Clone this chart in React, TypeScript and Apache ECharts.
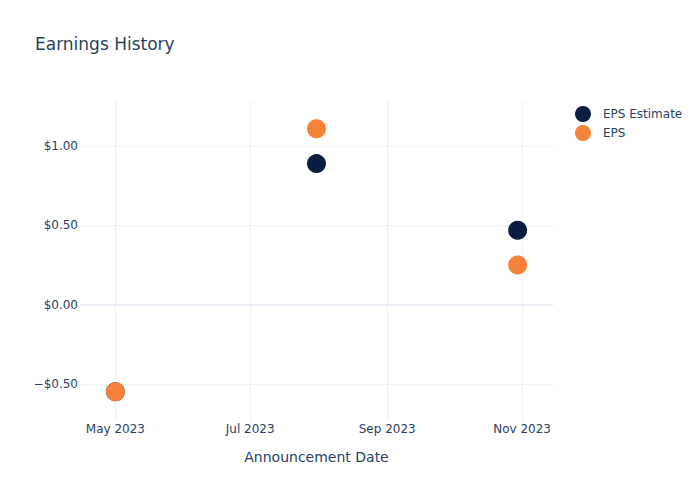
import React, { useEffect, useRef } from "react";
import * as echarts from "echarts";

const dates = ["2023-05-01", "2023-07-31", "2023-10-30"];
const epsEstimate = [-0.55, 0.89, 0.47];
const eps = [-0.55, 1.11, 0.25];
const xTickDates = ["2023-05-01", "2023-07-01", "2023-09-01", "2023-11-01"];
const xTickLabels = ["May 2023", "Jul 2023", "Sep 2023", "Nov 2023"];
const yTicks = [-0.5, 0, 0.5, 1];
const xRange = ["2023-04-15", "2023-11-15"];
const yRange = [-0.734, 1.285];

const ts = (s: string) => {
  const [y, m, d] = s.split("-").map(Number);
  return Date.UTC(y, m - 1, d);
};

const fmtMoney = (v: number) => (v < 0 ? "\u2212$" : "$") + Math.abs(v).toFixed(2);

export default function App() {
  const ref = useRef<HTMLDivElement>(null);
  useEffect(() => {
    if (!ref.current) return;
    const chart = echarts.init(ref.current, undefined, { renderer: "svg" });
    const font = "'DejaVu Sans', verdana, arial, sans-serif";
    const textColor = "#2a3f5f";
    const tickTs = xTickDates.map(ts);
    chart.setOption({
      animation: false,
      backgroundColor: "#ffffff",
      textStyle: { fontFamily: font, color: textColor },
      title: {
        text: "Earnings History",
        left: 30,
        top: 30,
        textStyle: { fontFamily: font, fontSize: 17, fontWeight: "normal", color: textColor },
      },
      legend: {
        orient: "vertical",
        left: 570,
        top: 101,
        itemGap: 3,
        itemWidth: 16,
        itemHeight: 16,
        icon: "circle",
        textStyle: { fontFamily: font, fontSize: 12, color: textColor, padding: [0, 0, 0, 7] },
        data: ["EPS Estimate", "EPS"],
      },
      grid: { left: 80, right: 147, top: 101, bottom: 79, containLabel: false },
      xAxis: {
        type: "value",
        min: ts(xRange[0]),
        max: ts(xRange[1]),
        scale: true,
        name: "Announcement Date",
        nameLocation: "middle",
        nameGap: 29,
        nameTextStyle: { fontFamily: font, fontSize: 14, color: textColor },
        axisLine: { show: false },
        axisTick: { show: false, customValues: tickTs },
        axisLabel: {
          customValues: tickTs,
          fontFamily: font,
          fontSize: 12,
          color: textColor,
          margin: 2,
          formatter: (v: number) => {
            const i = tickTs.indexOf(v);
            return i >= 0 ? xTickLabels[i] : "";
          },
        },
        splitLine: { show: true, lineStyle: { color: "#ebf0f8", width: 1 } },
      },
      yAxis: {
        type: "value",
        min: yRange[0],
        max: yRange[1],
        axisLine: { show: false },
        axisTick: { show: false, customValues: yTicks },
        axisLabel: {
          customValues: yTicks,
          fontFamily: font,
          fontSize: 12,
          color: textColor,
          margin: 2,
          formatter: (v: number) => fmtMoney(v),
        },
        splitLine: { show: true, lineStyle: { color: "#ebf0f8", width: 1 } },
      },
      series: [
        {
          name: "EPS Estimate",
          type: "scatter",
          symbolSize: 19,
          itemStyle: { color: "#0b1d40", opacity: 1 },
          data: dates.map((d, i) => [ts(d), epsEstimate[i]]),
          markLine: {
            silent: true,
            symbol: "none",
            label: { show: false },
            lineStyle: { color: "#ebf0f8", width: 2, type: "solid" },
            data: [{ yAxis: 0 }],
          },
        },
        {
          name: "EPS",
          type: "scatter",
          symbolSize: 19,
          itemStyle: { color: "#f5823a", opacity: 1 },
          data: dates.map((d, i) => [ts(d), eps[i]]),
        },
      ],
    });
    return () => chart.dispose();
  }, []);
  return <div ref={ref} style={{ width: 700, height: 500, position: "absolute", left: 0, top: 0 }} />;
}
